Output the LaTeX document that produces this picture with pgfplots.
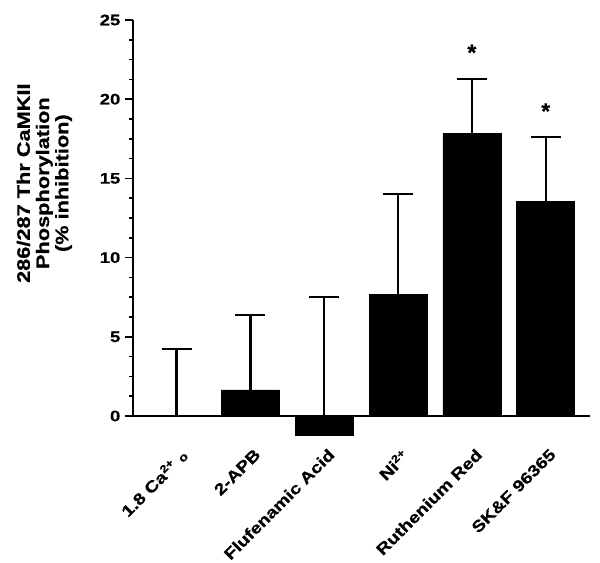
\documentclass[border=0pt]{standalone}
\usepackage{pgfplots}
\pgfplotsset{compat=1.18}
\usepackage{graphicx}
\usepackage{fontspec}
\setmainfont{Liberation Sans}[BoldFeatures={FakeBold=0.6}]
\newcommand\wide[1]{\scalebox{1.2}[1]{#1}}
\begin{document}
\begin{tikzpicture}
\useasboundingbox (-99.75pt,-109.5pt) rectangle (350.25pt,312pt);
\begin{axis}[
  at={(0,0)}, anchor=south west,
  scale only axis, width=342.75pt, height=297pt,
  xmin=-0.59, xmax=5.6, ymin=0, ymax=25,
  clip=false,
  axis lines=left,
  axis line style={-, line width=1.2pt},
  ytick={0,5,10,15,20,25},
  yticklabels={\wide{0},\wide{5},\wide{10},\wide{15},\wide{20},\wide{25}},
  minor y tick num=3,
  tick align=outside,
  ytick style={line width=1.1pt, black},
  major tick length=6pt, minor tick length=3pt,
  xtick={0,1,2,3,4,5},
  x tick style={draw=none},
  xticklabels={\wide{1.8 Ca\textsuperscript{2+} {\fontsize{9}{9}\selectfont o}},\wide{2-APB},\wide{Flufenamic Acid},\wide{Ni\textsuperscript{2+}},\wide{Ruthenium Red},\wide{SK\&F 96365}},
  xticklabel style={rotate=45, anchor=north east, xshift=-7.4pt, yshift=-10.7pt, font=\bfseries\fontsize{12}{14}\selectfont},
  yticklabel style={font=\bfseries\fontsize{11.5}{14}\selectfont},
  ylabel={\wide{286/287 Thr CaMKII}\\\wide{Phosphorylation}\\\wide{(\% inhibition)}},
  ylabel style={at={(rel axis cs:-0.194,0.588)}, anchor=center, align=center, font=\bfseries\fontsize{13.6}{14.4}\selectfont},
]
\addplot[ybar, bar width=43.5pt, fill=black, draw=black,
  error bars/.cd, y dir=plus, y explicit,
  error bar style={line width=1.7pt, black},
  error mark options={rotate=90, mark size=11.25pt, line width=1.7pt, black}]
  table[x=x, y=y, y error=e]{
x y e
0 0 4.23
1 1.65 4.73
2 -1.2 8.73
3 7.7 6.3
4 17.85 3.42
5 13.57 4.06
};
\node[font=\bfseries\fontsize{17}{17}\selectfont, yshift=-3pt] at (axis cs:4,23.2) {*};
\node[font=\bfseries\fontsize{17}{17}\selectfont, yshift=-3pt] at (axis cs:5,19.5) {*};
\end{axis}
\end{tikzpicture}
\end{document}
